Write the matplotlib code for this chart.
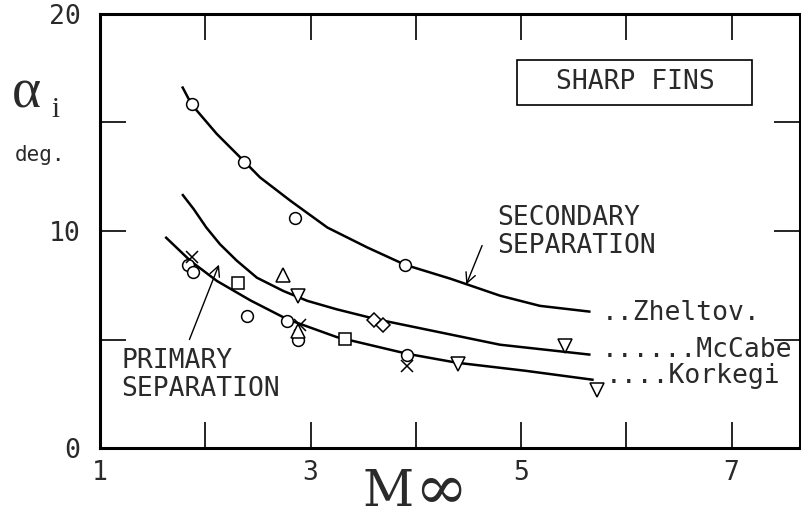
import matplotlib
matplotlib.use("Agg")
import matplotlib.pyplot as plt
from matplotlib.patches import Rectangle

# 曲线（从图上读取的点）
zheltov_M = [1.78, 1.87, 2.11, 2.38, 2.52, 2.81, 3.16, 3.54, 3.90, 4.33, 4.80, 5.18, 5.66]
zheltov_a = [16.66, 15.83, 14.47, 13.16, 12.47, 11.39, 10.16, 9.24, 8.44, 7.80, 7.02, 6.55, 6.28]

mccabe_M = [1.78, 1.89, 2.01, 2.14, 2.30, 2.49, 2.74, 2.97, 3.25, 3.63, 4.33, 4.80, 5.66]
mccabe_a = [11.70, 11.01, 10.16, 9.39, 8.63, 7.85, 7.24, 6.78, 6.39, 5.93, 5.23, 4.76, 4.30]

korkegi_M = [1.62, 1.86, 2.11, 2.43, 2.78, 3.25, 3.92, 4.39, 5.04, 5.69]
korkegi_a = [9.73, 8.62, 7.70, 6.80, 5.93, 5.11, 4.34, 3.93, 3.56, 3.14]

# 实验点
circle_M = [1.87, 2.37, 2.85, 3.90, 1.84, 1.88, 2.40, 2.78, 2.88, 3.92]
circle_a = [15.84, 13.16, 10.6, 8.45, 8.45, 8.13, 6.10, 5.87, 4.99, 4.30]
square_M = [2.31, 3.33]
square_a = [7.62, 5.03]
cross_M = [1.87, 2.90, 3.92]
cross_a = [8.78, 5.68, 3.79]
tri_up_M = [2.74, 2.88]
tri_up_a = [7.99, 5.40]
tri_down_M = [2.88, 5.42, 4.40, 5.72]
tri_down_a = [7.02, 4.71, 3.88, 2.68]
diamond_M = [3.60, 3.69]
diamond_a = [5.91, 5.68]

x_ticks = [1, 2, 3, 4, 5, 6, 7]
x_labels = ["1", "", "3", "", "5", "", "7"]
y_ticks = [0, 5, 10, 15, 20]
y_labels = ["0", "", "10", "", "20"]

mono = "DejaVu Sans Mono"
serif = "Liberation Serif"
ink = "#2a2a2a"
fs = 19

fig = plt.figure(figsize=(8.01, 5.19), dpi=100)
ax = fig.add_axes([100 / 801, 1 - 448 / 519, 700 / 801, 434 / 519])
ax.set_xlim(1, 7.65)
ax.set_ylim(0, 20)

for s in ax.spines.values():
    s.set_linewidth(2.2)
    s.set_color("black")

ax.set_xticks(x_ticks)
ax.set_xticklabels(x_labels, family=mono, fontsize=fs, color=ink)
ax.set_yticks(y_ticks)
ax.set_yticklabels(y_labels, family=mono, fontsize=fs, color=ink)
ax.tick_params(direction="in", length=19, width=1.2, top=True, right=True)
ax.tick_params(axis="x", pad=9)
ax.tick_params(axis="y", pad=14)

# 曲线
for m, a in [(zheltov_M, zheltov_a), (mccabe_M, mccabe_a), (korkegi_M, korkegi_a)]:
    ax.plot(m, a, color="black", lw=1.8, solid_capstyle="butt")

# 点
mk = dict(linestyle="none", mfc="white", mec="black", mew=1.1)
ax.plot(circle_M, circle_a, marker="o", ms=8.5, **mk)
ax.plot(square_M, square_a, marker="s", ms=9, **mk)
ax.plot(cross_M, cross_a, marker="x", ms=9, **mk)
ax.plot(tri_up_M, tri_up_a, marker="^", ms=10, **mk)
ax.plot(tri_down_M, tri_down_a, marker="v", ms=10, **mk)
ax.plot(diamond_M, diamond_a, marker="D", ms=7.5, **mk)

# 标注
ax.text(6.09, 16.87, "SHARP FINS", family=mono, fontsize=fs, color=ink,
        ha="center", va="center")
ax.add_patch(Rectangle((0.596, 0.790), 0.335, 0.104, transform=ax.transAxes,
                       fill=False, ec="black", lw=1.2))

ax.text(0.567, 0.497, "SECONDARY\nSEPARATION", transform=ax.transAxes,
        family=mono, fontsize=fs, color=ink, ha="left", va="center", linespacing=1.1)
ax.text(0.031, 0.168, "PRIMARY\nSEPARATION", transform=ax.transAxes,
        family=mono, fontsize=fs, color=ink, ha="left", va="center", linespacing=1.1)

ax.annotate("", xy=(4.47, 7.42), xytext=(4.64, 9.45),
            arrowprops=dict(arrowstyle="->", lw=1.0, color="black",
                            mutation_scale=18))
ax.annotate("", xy=(2.14, 8.57), xytext=(1.84, 4.88),
            arrowprops=dict(arrowstyle="->", lw=1.0, color="black",
                            mutation_scale=18))

ax.text(5.77, 5.90, "..Zheltov.", family=mono, fontsize=fs, color=ink,
        ha="left", va="baseline")
ax.text(5.77, 4.19, "......McCabe", family=mono, fontsize=fs, color=ink,
        ha="left", va="baseline")
ax.text(5.80, 3.00, "....Korkegi", family=mono, fontsize=fs, color=ink,
        ha="left", va="baseline")

# 轴标题
fig.text(12 / 801, 1 - 107 / 519, "α", family=serif, fontsize=40, color=ink,
         ha="left", va="baseline")
fig.text(51 / 801, 1 - 117 / 519, "i", family=serif, fontsize=21, color=ink,
         ha="left", va="baseline")
fig.text(15 / 801, 1 - 161 / 519, "deg.", family=mono, fontsize=15, color=ink,
         ha="left", va="baseline")
fig.text(362 / 801, 1 - 506 / 519, r"$\mathrm{M}$", fontsize=36, color=ink,
         math_fontfamily="dejavuserif", ha="left", va="baseline")
fig.text(414 / 801, 1 - 507 / 519, r"$\infty$", fontsize=46, color=ink,
         math_fontfamily="dejavuserif", ha="left", va="baseline")

fig.savefig("out.png", dpi=100)
